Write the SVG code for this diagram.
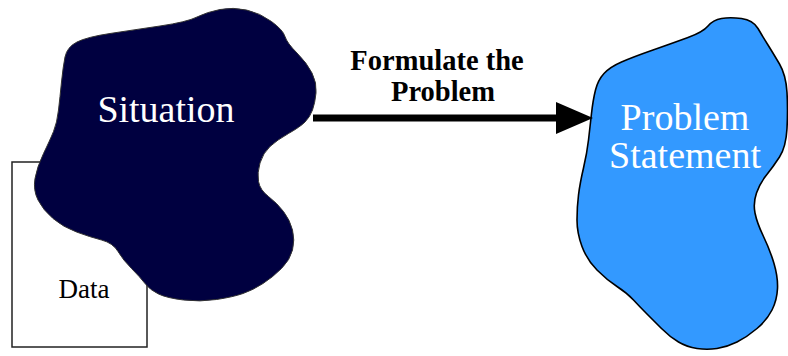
<svg xmlns="http://www.w3.org/2000/svg" width="788" height="356" viewBox="0 0 788 356">
<style>
.blobtxt{fill:#fff;font-size:38px;text-anchor:middle}
.lbl{fill:#000;font-size:28.5px;font-weight:bold;text-anchor:middle}
</style>
<rect width="788" height="356" fill="#fff"/>
<g id="data">
<rect x="12" y="162" width="135" height="185" fill="#fff" stroke="#222" stroke-width="1.5"/>
<text font-family="Liberation Serif" x="84" y="298" font-size="27" text-anchor="middle" fill="#000">Data</text>
</g>
<g id="situation">
<path fill="#000040" stroke="#333" stroke-width="1" d="M61.5,82 Q63,67 65,57 Q67,47 77,42 Q87,37 110,33.5 Q133,30 160,26 Q187,22 197,17 Q207,12 220,9.5 Q233,7 246.5,10 Q260,13 271.5,21.5 Q283,30 285,36.5 Q287,43 297,53 Q307,63 312,73 Q317,83 316,93 Q315,103 312.5,110 Q310,117 305,122 Q300,127 288.5,133.5 Q277,140 270,146.5 Q263,153 260,163 Q257,173 258.5,181.5 Q260,190 268.5,196.5 Q277,203 283.5,211.5 Q290,220 292.5,230 Q295,240 292.5,250 Q290,260 281.5,268.5 Q273,277 263,283.5 Q253,290 243,293.5 Q233,297 216.5,299.5 Q200,302 183.5,300 Q167,298 158.5,294 Q150,290 145,283.5 Q140,277 131.5,268.5 Q123,260 118,251.5 Q113,243 101.5,240 Q90,237 76.5,232 Q63,227 53,218.5 Q43,210 38,200 Q33,190 35,178.5 Q37,167 43.5,153.5 Q50,140 53.5,131.5 Q57,123 58.5,110 Q60,97 61.5,82 Z"/>
<text class="blobtxt" font-family="Liberation Serif" x="166" y="122">Situation</text>
</g>
<g id="problem-statement">
<path fill="#3399ff" stroke="#000" stroke-width="1.6" d="M595.5,90 Q598,80 604,73.5 Q610,67 621.5,62 Q633,57 653,50 Q673,43 688,37.5 Q703,32 708,26 Q713,20 721.5,18.5 Q730,17 741.5,18.5 Q753,20 758,28.5 Q763,37 768,45 Q773,53 779.5,64 Q786,75 787,92.5 Q788,110 787,128.5 Q786,147 779.5,157 Q773,167 766.5,175 Q760,183 756.5,193 Q753,203 755,213 Q757,223 763.5,236.5 Q770,250 774,263.5 Q778,277 777.5,288.5 Q777,300 772,310 Q767,320 757,328.5 Q747,337 737,342 Q727,347 717,348.5 Q707,350 697,348.5 Q687,347 678.5,342 Q670,337 661.5,328.5 Q653,320 646.5,313.5 Q640,307 633.5,300 Q627,293 617,286.5 Q607,280 597,270 Q587,260 582,246.5 Q577,233 577,220 Q577,207 578.5,195 Q580,183 583.5,168 Q587,153 588.5,140 Q590,127 591.5,113.5 Q593,100 595.5,90 Z"/>
<text class="blobtxt" font-family="Liberation Serif" x="685" y="130">Problem</text>
<text class="blobtxt" font-family="Liberation Serif" x="685" y="168">Statement</text>
</g>
<g id="connectors">
<line x1="313" y1="118" x2="558" y2="118" stroke="#000" stroke-width="7"/>
<polygon points="556,102 593,118 556,134" fill="#000"/>
<text class="lbl" font-family="Liberation Serif" x="437" y="70">Formulate the</text>
<text class="lbl" font-family="Liberation Serif" x="443" y="101">Problem</text>
</g>
</svg>
